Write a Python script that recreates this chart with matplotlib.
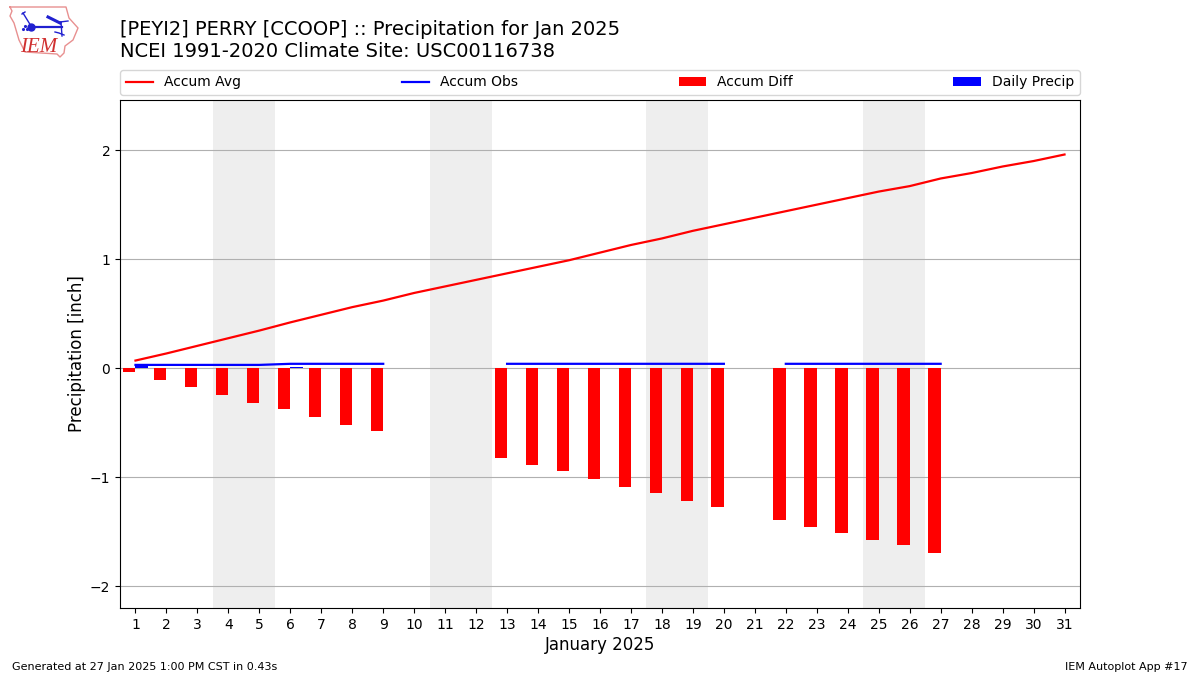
import numpy as np
import matplotlib
matplotlib.use("Agg")
import matplotlib.pyplot as plt

nan = float("nan")
days = list(range(1, 32))
accum_avg = [0.07, 0.135, 0.205, 0.275, 0.345, 0.42, 0.49, 0.56, 0.62, 0.69, 0.75, 0.81, 0.87, 0.93, 0.99, 1.06,
             1.13, 1.19, 1.26, 1.32, 1.38, 1.44, 1.50, 1.56, 1.62, 1.67, 1.74, 1.79, 1.85, 1.90, 1.96]
accum_obs = [0.03, 0.03, 0.03, 0.03, 0.03, 0.04, 0.04, 0.04, 0.04, nan, nan, nan, 0.04, 0.04, 0.04, 0.04,
             0.04, 0.04, 0.04, 0.04, nan, 0.04, 0.04, 0.04, 0.04, 0.04, 0.04, nan, nan, nan, nan]
accum_diff = [-0.035, -0.105, -0.175, -0.245, -0.315, -0.375, -0.445, -0.525, -0.575, nan, nan, nan, -0.825, -0.89,
              -0.945, -1.02, -1.09, -1.145, -1.22, -1.275, nan, -1.395, -1.455, -1.515, -1.575, -1.625, -1.695,
              nan, nan, nan, nan]
daily_precip = [0.03, 0, 0, 0, 0, 0.01, 0, 0, 0, nan, nan, nan, 0, 0, 0, 0, 0, 0, 0, 0, nan, 0, 0, 0, 0, 0, 0,
                nan, nan, nan, nan]
weekends = [(3.5, 5.5), (10.5, 12.5), (17.5, 19.5), (24.5, 26.5)]

fig = plt.figure(figsize=(12, 6.75), dpi=100)
ax = fig.add_axes([0.1, 1 - 608 / 675, 0.8, 508 / 675])

for a, b in weekends:
    ax.axvspan(a, b, color="#eeeeee", lw=0, zorder=0)
ax.yaxis.grid(True, color="#b0b0b0", lw=0.8, zorder=1)
ax.set_axisbelow(True)

ax.plot(days, accum_avg, color="red", lw=1.6, label="Accum Avg", zorder=4)
ax.plot(days, accum_obs, color="blue", lw=1.6, label="Accum Obs", zorder=4)
ax.bar(np.array(days) - 0.4, accum_diff, width=0.4, align="edge", color="red", label="Accum Diff", zorder=3)
ax.bar(days, daily_precip, width=0.4, align="edge", color="blue", label="Daily Precip", zorder=3)

ax.set_xlim(0.5, 31.5)
ax.set_ylim(-2.2, 2.46)
ax.set_xticks(days)
ax.set_yticks([-2, -1, 0, 1, 2])
ax.tick_params(axis="both", labelsize=10)
ax.set_xlabel("January 2025", fontsize=12, labelpad=3)
ax.set_ylabel("Precipitation [inch]", fontsize=12, labelpad=2.5)
ax.legend(loc="lower left", bbox_to_anchor=(0, 513 / 508, 1, 25 / 508), ncol=4, mode="expand", borderaxespad=0,
          fontsize=10)

fig.text(120 / 1200, 1 - 35 / 675, "[PEYI2] PERRY [CCOOP] :: Precipitation for Jan 2025", fontsize=14, va="baseline")
fig.text(120 / 1200, 1 - 57 / 675, "NCEI 1991-2020 Climate Site: USC00116738", fontsize=14, va="baseline")
fig.text(12 / 1200, 1 - 670 / 675, "Generated at 27 Jan 2025 1:00 PM CST in 0.43s", fontsize=8, va="baseline")
fig.text(1188 / 1200, 1 - 670 / 675, "IEM Autoplot App #17", fontsize=8, va="baseline", ha="right")

# IEM logo, in pixel coordinates of the figure
logo = fig.add_axes([0, 1 - 70 / 675, 130 / 1200, 70 / 675])
logo.set_xlim(0, 130)
logo.set_ylim(70, 0)
logo.axis("off")
outline_x = [10, 66, 69, 78, 73, 65, 64, 60, 57, 25, 19, 14, 10, 12, 10]
outline_y = [7, 7, 18, 28, 40, 46, 53, 57, 54, 52, 40, 23, 16, 11, 7]
logo.plot(outline_x, outline_y, color="#e89090", lw=1)
blue = "#2020d0"
logo.plot([31, 62], [26.5, 26.5], color=blue, lw=1.6)
logo.plot([23, 31], [13, 26], color=blue, lw=1)
logo.plot([22, 25], [14, 12], color=blue, lw=1)
logo.plot([48, 60], [17, 23], color=blue, lw=2.2)
logo.plot([60, 68], [22, 21], color=blue, lw=1)
logo.plot([61, 62], [22, 36], color=blue, lw=1)
logo.plot([55, 59, 64], [32, 33, 35], color=blue, lw=1)
logo.plot([31], [26.5], "o", color=blue, ms=5)
logo.plot([23, 25, 27], [29, 26, 29], ".", color=blue, ms=2.5)
logo.text(20.5, 52, "IEM", family="Liberation Serif", style="italic", color="#d03030", fontsize=15, va="baseline")

fig.savefig("out.png", dpi=100)
